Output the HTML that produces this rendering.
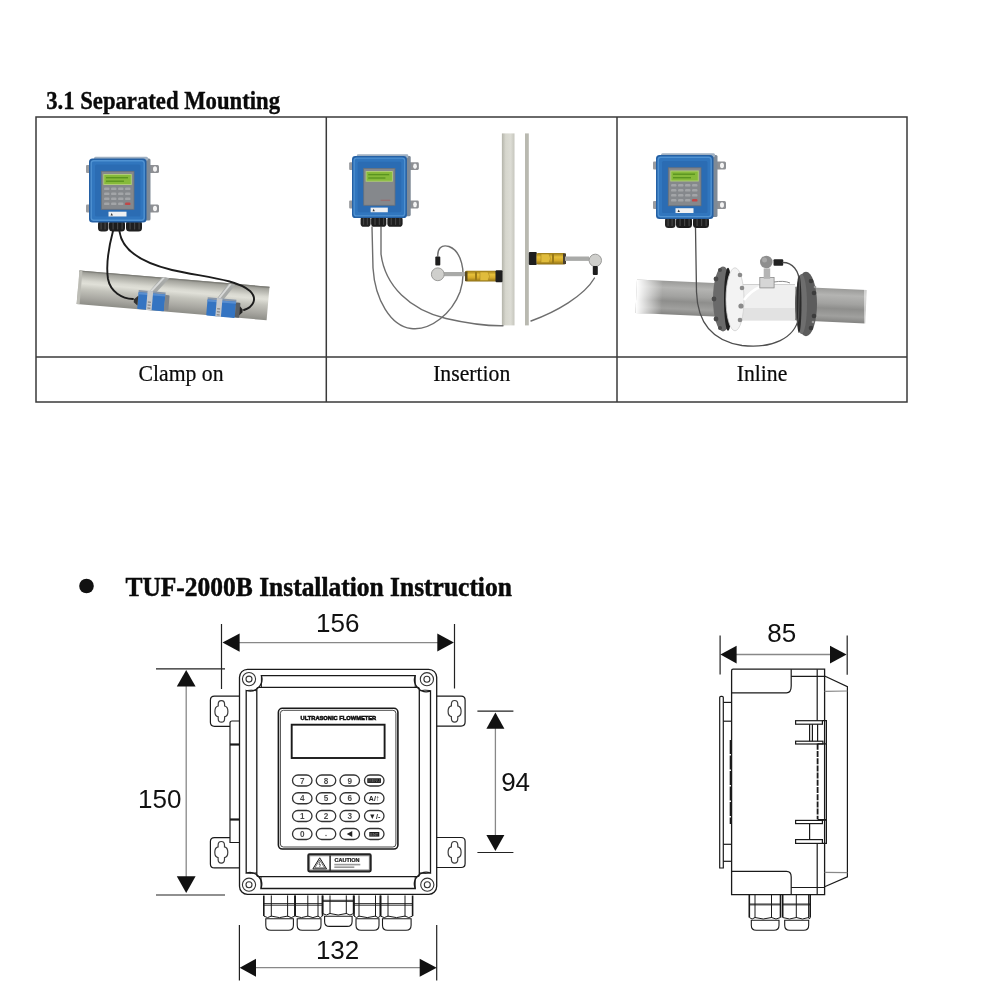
<!DOCTYPE html>
<html><head><meta charset="utf-8"><style>
html,body{margin:0;padding:0;background:#fff;width:1000px;height:1000px;overflow:hidden}
svg{display:block;will-change:transform}
.serif{font-family:"Liberation Serif",serif}
.sans{font-family:"Liberation Sans",sans-serif}
</style></head><body>
<svg width="1000" height="1000" viewBox="0 0 1000 1000">
<rect width="1000" height="1000" fill="#fff"/>
<defs>
<linearGradient id="pipeg" x1="0" y1="0" x2="0" y2="1">
<stop offset="0" stop-color="#8a8a84"/><stop offset="0.08" stop-color="#a6a69f"/><stop offset="0.3" stop-color="#d8d8d0"/><stop offset="0.38" stop-color="#e0e0d8"/><stop offset="0.55" stop-color="#c4c4bc"/><stop offset="0.8" stop-color="#a8a7a1"/><stop offset="1" stop-color="#8e8e88"/>
</linearGradient>
<linearGradient id="vpipe" x1="0" y1="0" x2="1" y2="0">
<stop offset="0" stop-color="#b4b4aa"/><stop offset="0.3" stop-color="#d6d6cd"/><stop offset="0.7" stop-color="#dcdcd4"/><stop offset="1" stop-color="#c6c6bd"/>
</linearGradient>
<linearGradient id="pipe3" x1="0" y1="0" x2="0" y2="1">
<stop offset="0" stop-color="#9a9a98"/><stop offset="0.2" stop-color="#b4b4b2"/><stop offset="0.45" stop-color="#a2a2a0"/><stop offset="0.6" stop-color="#8e8e8c"/><stop offset="0.82" stop-color="#a0a09e"/><stop offset="1" stop-color="#848482"/>
</linearGradient>
<linearGradient id="fadeL" x1="0" y1="0" x2="1" y2="0">
<stop offset="0" stop-color="#fff" stop-opacity="1"/><stop offset="1" stop-color="#fff" stop-opacity="0"/>
</linearGradient>
<linearGradient id="yel" x1="0" y1="0" x2="0" y2="1">
<stop offset="0" stop-color="#9a7a18"/><stop offset="0.35" stop-color="#e6c03a"/><stop offset="0.65" stop-color="#d4aa2a"/><stop offset="1" stop-color="#8a6c14"/>
</linearGradient>
</defs>


<!-- ===== Heading 3.1 ===== -->
<text transform="translate(46.2 108.6) scale(1 1.08)" class="serif" font-weight="bold" font-size="22.7" fill="#0a0a0a" stroke="#0a0a0a" stroke-width="0.35">3.1 Separated Mounting</text>

<!-- ===== Table ===== -->
<g stroke="#3a3a3a" stroke-width="1.5" fill="none">
<rect x="36" y="117" width="871" height="285"/>
<line x1="36" y1="357" x2="907" y2="357"/>
<line x1="326.3" y1="117" x2="326.3" y2="402"/>
<line x1="617" y1="117" x2="617" y2="402"/>
</g>
<g class="serif" font-size="21.7" fill="#0a0a0a" stroke="#0a0a0a" stroke-width="0.2" text-anchor="middle">
<text transform="translate(181 380.9) scale(1 1.08)">Clamp on</text>
<text transform="translate(471.7 380.9) scale(1 1.08)">Insertion</text>
<text transform="translate(762 380.9) scale(1 1.08)">Inline</text>
</g>

<!-- PHOTOS -->
<g id="photos">
<!-- ===== Cell 1: Clamp on ===== -->
<g transform="translate(79.5 270.4) rotate(4.93)">
<rect x="0" y="0" width="190.7" height="33.6" fill="url(#pipeg)"/>
<rect x="0" y="0" width="190.7" height="1.2" fill="#7e7e78"/>
<rect x="0" y="0" width="3" height="33.6" fill="#bdbdb6"/>
</g>
<!-- straps -->
<path d="M146.5 294.5 L162 277 L169.5 278 L153.5 295.5 Z" fill="#a8aaa8"/>
<path d="M148 293 L163 277.5 L165 277.7 L150 294 Z" fill="#d8d9d8"/>
<path d="M215.5 300.5 L228.5 283.5 L235.5 284.5 L222 301.5 Z" fill="#a8aaa8"/>
<path d="M217 299.5 L229.5 284 L231.5 284.2 L219 300 Z" fill="#d8d9d8"/>
<g transform="translate(151.3 301.8) rotate(4.93)">
<rect x="-13.5" y="-10.6" width="27" height="3" fill="#8796aa"/>
<rect x="-13.5" y="-8.4" width="27" height="16.8" rx="1" fill="#3474c2"/>
<rect x="-13.5" y="-8.4" width="27" height="2" fill="#5a8fd0"/>
<rect x="-4.6" y="-10.6" width="5.6" height="19.2" fill="#c6c8ca"/>
<rect x="-3.4" y="0" width="3" height="1" fill="#777"/><rect x="-3.4" y="3" width="3" height="1" fill="#777"/><rect x="-3.4" y="6" width="3" height="1" fill="#777"/>
<rect x="13.3" y="-8" width="4.4" height="15.5" rx="1" fill="#80858a"/>
<path d="M-13.5 -5 L-17.5 -1 L-17.5 2 L-13.5 5 Z" fill="#333"/>
</g>
<g transform="translate(221.2 308.7) rotate(4.93)">
<rect x="-14.4" y="-10.3" width="28.8" height="3" fill="#8796aa"/>
<rect x="-14.4" y="-8.1" width="28.8" height="16.2" rx="1" fill="#3474c2"/>
<rect x="-14.4" y="-8.1" width="28.8" height="2" fill="#5a8fd0"/>
<rect x="-5.2" y="-10.3" width="5.6" height="18.6" fill="#c6c8ca"/>
<rect x="-4" y="0" width="3" height="1" fill="#777"/><rect x="-4" y="3" width="3" height="1" fill="#777"/><rect x="-4" y="6" width="3" height="1" fill="#777"/>
<rect x="14.2" y="-7.5" width="4.5" height="15" rx="1" fill="#5a5e62"/>
<path d="M18.5 -4 L21.5 -1 L21.5 2 L18.5 5 Z" fill="#222"/>
</g>
<g fill="none" stroke="#1c1c1c" stroke-width="1.9" stroke-linecap="round">
<path d="M113 231 C108.5 248 106 266 108 279 C110.5 292 122 298.5 133 299"/>
<path d="M119.5 231.5 C122 249 139 262 172 270 C203 277 236 279 250 291 C258 299 253 307 244 310"/>
</g>
<g transform="translate(89 158.5)">
<!-- ears -->
<rect x="-3" y="6.5" width="4.5" height="8" rx="1" fill="#9a9ca0"/>
<rect x="-3" y="46" width="4.5" height="8" rx="1" fill="#9a9ca0"/>
<rect x="56" y="6.5" width="14" height="8" rx="1.5" fill="#8e9094"/>
<rect x="56" y="46" width="14" height="8" rx="1.5" fill="#8e9094"/>
<ellipse cx="66" cy="10.5" rx="2" ry="2.8" fill="#f4f4f4"/>
<ellipse cx="66" cy="50" rx="2" ry="2.8" fill="#f4f4f4"/>
<!-- side & top faces -->
<rect x="55" y="0" width="6.5" height="62" rx="1.5" fill="#7f8a96"/>
<rect x="5" y="-1.8" width="54" height="4" rx="1.5" fill="#9fb0c2"/>
<!-- glands -->
<rect x="9" y="62" width="10.5" height="11" rx="3.5" fill="#222"/>
<rect x="20" y="62" width="16" height="11" rx="3.5" fill="#1c1c1c"/>
<rect x="37" y="62" width="16" height="11" rx="3.5" fill="#1f1f1f"/>
<g fill="#444"><rect x="11.5" y="64" width="1.2" height="7"/><rect x="15.5" y="64" width="1.2" height="7"/><rect x="23.5" y="64" width="1.2" height="7"/><rect x="28" y="64" width="1.2" height="7"/><rect x="32.5" y="64" width="1.2" height="7"/><rect x="40.5" y="64" width="1.2" height="7"/><rect x="45" y="64" width="1.2" height="7"/><rect x="49.5" y="64" width="1.2" height="7"/></g>
<!-- body -->
<rect x="0" y="0" width="57.5" height="64" rx="3.5" fill="#2460a4"/>
<rect x="2.2" y="2.2" width="53" height="59.5" rx="2.5" fill="#3176be" stroke="#4f92d2" stroke-width="1.4"/>
<rect x="6" y="6" width="45.5" height="52" rx="1.5" fill="#2b6cb3"/>
<!-- panel -->
<rect x="12.3" y="12.8" width="32.7" height="38" fill="#85888c" stroke="#6a7078" stroke-width="0.8"/>
<rect x="14.8" y="16" width="27.5" height="10" fill="#86ba3a" stroke="#b0cc78" stroke-width="1"/>
<rect x="17" y="18.5" width="22" height="1.4" fill="#5a9420"/><rect x="17" y="22" width="18" height="1.4" fill="#5a9420"/>
<rect x="19.5" y="53.2" width="18" height="4.8" fill="#eef0f2"/>
<path d="M21.5 57 L22.7 54.5 L23.9 57 Z" fill="#333"/>

<g fill="#a3a5a8">
<rect x="15" y="29" width="5.5" height="2.6" rx="1.2"/><rect x="22" y="29" width="5.5" height="2.6" rx="1.2"/><rect x="29" y="29" width="5.5" height="2.6" rx="1.2"/><rect x="36" y="29" width="5.5" height="2.6" rx="1.2"/>
<rect x="15" y="34" width="5.5" height="2.6" rx="1.2"/><rect x="22" y="34" width="5.5" height="2.6" rx="1.2"/><rect x="29" y="34" width="5.5" height="2.6" rx="1.2"/><rect x="36" y="34" width="5.5" height="2.6" rx="1.2"/>
<rect x="15" y="39" width="5.5" height="2.6" rx="1.2"/><rect x="22" y="39" width="5.5" height="2.6" rx="1.2"/><rect x="29" y="39" width="5.5" height="2.6" rx="1.2"/><rect x="36" y="39" width="5.5" height="2.6" rx="1.2"/>
<rect x="15" y="44" width="5.5" height="2.6" rx="1.2"/><rect x="22" y="44" width="5.5" height="2.6" rx="1.2"/><rect x="29" y="44" width="5.5" height="2.6" rx="1.2"/>
</g>
<rect x="36" y="44" width="5.5" height="2.6" rx="1.2" fill="#c04848"/>
</g>

<!-- ===== Cell 2: Insertion ===== -->
<rect x="501.9" y="133.4" width="12.6" height="192" fill="url(#vpipe)"/>
<rect x="525" y="133.4" width="3.8" height="192" fill="#b9b9b0"/>
<g fill="none" stroke="#6e6e6e" stroke-width="1.4" stroke-linecap="round">
<path d="M372 227 L373 268 C375 300 391 326 411 328.5 C431 331 452 313 460 292 C467 271 461 251 449 246.5 C441 244 437.5 249 437.8 256"/>
<path d="M381 227 L381 254 C385 286 410 310 446 318.5 C470 324 490 326 503 325.8"/>
<path d="M531 321 C556 312 584 296 594.5 278"/>
</g>
<!-- left sensor -->
<rect x="443" y="272" width="23" height="4.2" fill="#a9aaa8"/>
<rect x="465" y="270.8" width="31.5" height="10.8" rx="1.5" fill="url(#yel)"/>
<rect x="475" y="272" width="2" height="8.5" fill="#9a7a18"/><rect x="465" y="271.5" width="2.5" height="9.5" fill="#5a4a20"/><path d="M480 272 h8 l1.5 4.3 l-1.5 4.3 h-8 z" fill="#e0bc3c" stroke="#a08020" stroke-width="0.5"/>
<rect x="495.5" y="270.2" width="7" height="12" rx="1" fill="#1e1e1e"/>
<circle cx="437.8" cy="274.3" r="6.4" fill="#cfcfcc" stroke="#9a9a98" stroke-width="1"/>
<rect x="435.3" y="256.5" width="5" height="9" rx="1" fill="#1e1e1e"/>
<!-- right sensor -->
<rect x="528.8" y="252" width="8" height="13" rx="1" fill="#1e1e1e"/>
<rect x="536.5" y="253" width="29" height="11.5" rx="1.5" fill="url(#yel)"/>
<rect x="552" y="254" width="2" height="9.5" fill="#9a7a18"/><rect x="563" y="253.5" width="3" height="10.5" fill="#4a4030"/><path d="M541 254 h8 l1.5 4.3 l-1.5 4.3 h-8 z" fill="#e0bc3c" stroke="#a08020" stroke-width="0.5"/>
<rect x="565" y="256.5" width="24" height="4.4" fill="#a9aaa8"/>
<circle cx="595.3" cy="260.4" r="6.2" fill="#cfcfcc" stroke="#9a9a98" stroke-width="1"/>
<rect x="592.8" y="266" width="5" height="9" rx="1" fill="#1e1e1e"/>
<g transform="translate(352 156) scale(0.955 0.97)">
<!-- ears -->
<rect x="-3" y="6.5" width="4.5" height="8" rx="1" fill="#9a9ca0"/>
<rect x="-3" y="46" width="4.5" height="8" rx="1" fill="#9a9ca0"/>
<rect x="56" y="6.5" width="14" height="8" rx="1.5" fill="#8e9094"/>
<rect x="56" y="46" width="14" height="8" rx="1.5" fill="#8e9094"/>
<ellipse cx="66" cy="10.5" rx="2" ry="2.8" fill="#f4f4f4"/>
<ellipse cx="66" cy="50" rx="2" ry="2.8" fill="#f4f4f4"/>
<!-- side & top faces -->
<rect x="55" y="0" width="6.5" height="62" rx="1.5" fill="#7f8a96"/>
<rect x="5" y="-1.8" width="54" height="4" rx="1.5" fill="#9fb0c2"/>
<!-- glands -->
<rect x="9" y="62" width="10.5" height="11" rx="3.5" fill="#222"/>
<rect x="20" y="62" width="16" height="11" rx="3.5" fill="#1c1c1c"/>
<rect x="37" y="62" width="16" height="11" rx="3.5" fill="#1f1f1f"/>
<g fill="#444"><rect x="11.5" y="64" width="1.2" height="7"/><rect x="15.5" y="64" width="1.2" height="7"/><rect x="23.5" y="64" width="1.2" height="7"/><rect x="28" y="64" width="1.2" height="7"/><rect x="32.5" y="64" width="1.2" height="7"/><rect x="40.5" y="64" width="1.2" height="7"/><rect x="45" y="64" width="1.2" height="7"/><rect x="49.5" y="64" width="1.2" height="7"/></g>
<!-- body -->
<rect x="0" y="0" width="57.5" height="64" rx="3.5" fill="#2460a4"/>
<rect x="2.2" y="2.2" width="53" height="59.5" rx="2.5" fill="#3176be" stroke="#4f92d2" stroke-width="1.4"/>
<rect x="6" y="6" width="45.5" height="52" rx="1.5" fill="#2b6cb3"/>
<!-- panel -->
<rect x="12.3" y="12.8" width="32.7" height="38" fill="#85888c" stroke="#6a7078" stroke-width="0.8"/>
<rect x="14.8" y="16" width="27.5" height="10" fill="#86ba3a" stroke="#b0cc78" stroke-width="1"/>
<rect x="17" y="18.5" width="22" height="1.4" fill="#5a9420"/><rect x="17" y="22" width="18" height="1.4" fill="#5a9420"/>
<rect x="19.5" y="53.2" width="18" height="4.8" fill="#eef0f2"/>
<path d="M21.5 57 L22.7 54.5 L23.9 57 Z" fill="#333"/>
<rect x="30" y="45" width="10" height="1.4" fill="#a06060" opacity="0.6"/></g>

<!-- ===== Cell 3: Inline ===== -->
<g transform="translate(637 279.5) rotate(2.6)">
<rect x="0" y="0" width="230" height="33.5" fill="url(#pipe3)"/>
<rect x="0" y="0" width="26" height="33.5" fill="url(#fadeL)"/>
</g>
<rect x="864" y="288" width="4" height="37" fill="#fff" opacity="0.5"/>
<!-- left flange -->
<ellipse cx="723" cy="299" rx="10" ry="32.5" fill="#6a6a6a"/>
<g fill="#4a4a4a"><circle cx="716" cy="279" r="2.4"/><circle cx="714" cy="299" r="2.4"/><circle cx="716" cy="319" r="2.4"/><circle cx="720" cy="270" r="2"/><circle cx="720" cy="328" r="2"/></g>
<ellipse cx="728" cy="299.3" rx="4" ry="31.5" fill="#1e1e1e"/>
<!-- meter tube -->
<rect x="738" y="284" width="57" height="36.5" fill="#efefef"/>
<rect x="738" y="308" width="57" height="12.5" fill="#e2e2e2"/>
<rect x="738" y="284" width="57" height="1" fill="#cfcfcf"/>
<ellipse cx="735" cy="299.3" rx="9" ry="31.5" fill="#f3f3f3" stroke="#d0d0d0" stroke-width="0.8"/>
<g fill="#8a8a8a"><circle cx="740" cy="275" r="2.3"/><circle cx="742" cy="288" r="2.3"/><circle cx="741" cy="306" r="2.6"/><circle cx="740" cy="320" r="2.3"/></g>
<path d="M744 300 C750 292 755 289 760 287" stroke="#fff" stroke-width="2.5" fill="none"/>
<!-- right flange -->
<ellipse cx="806" cy="304" rx="11" ry="32.2" fill="#5c5c5c"/>
<ellipse cx="801.5" cy="304" rx="5.5" ry="30" fill="#6e6e6e"/>
<ellipse cx="799" cy="304" rx="2.5" ry="29" fill="#2a2a2a"/>
<g fill="#3c3c3c"><circle cx="811" cy="281" r="2.3"/><circle cx="814" cy="293" r="2.3"/><circle cx="814" cy="316" r="2.3"/><circle cx="811" cy="328" r="2.3"/></g>
<g fill="#9a9a9a"><circle cx="815" cy="287" r="1.3"/><circle cx="813" cy="322" r="1.3"/></g>
<!-- sensor -->
<rect x="759.8" y="277.5" width="14.3" height="10.4" fill="#d6d6d6" stroke="#8a8a8a" stroke-width="0.8"/>
<rect x="763.7" y="268.4" width="6.5" height="10.4" fill="#b4b4b4"/>
<circle cx="766.3" cy="262" r="6.3" fill="#8e8e8e"/>
<circle cx="764.5" cy="260" r="2.5" fill="#a8a8a8"/>
<rect x="773.5" y="259.3" width="9.7" height="6.5" rx="1" fill="#222"/>
<path d="M774 282 C780 281 786 281 790 283" stroke="#8a8a8a" stroke-width="1" fill="none"/>
<g fill="none" stroke="#4e4e4e" stroke-width="1.3" stroke-linecap="round">
<path d="M695.5 228 L696.5 292 C697.5 322 712 341 742 345.5 C772 349 795 338 798.5 318 L799.5 284 C799.5 270 792 262.5 783 262.5"/>
</g>
<g transform="translate(656 155)">
<!-- ears -->
<rect x="-3" y="6.5" width="4.5" height="8" rx="1" fill="#9a9ca0"/>
<rect x="-3" y="46" width="4.5" height="8" rx="1" fill="#9a9ca0"/>
<rect x="56" y="6.5" width="14" height="8" rx="1.5" fill="#8e9094"/>
<rect x="56" y="46" width="14" height="8" rx="1.5" fill="#8e9094"/>
<ellipse cx="66" cy="10.5" rx="2" ry="2.8" fill="#f4f4f4"/>
<ellipse cx="66" cy="50" rx="2" ry="2.8" fill="#f4f4f4"/>
<!-- side & top faces -->
<rect x="55" y="0" width="6.5" height="62" rx="1.5" fill="#7f8a96"/>
<rect x="5" y="-1.8" width="54" height="4" rx="1.5" fill="#9fb0c2"/>
<!-- glands -->
<rect x="9" y="62" width="10.5" height="11" rx="3.5" fill="#222"/>
<rect x="20" y="62" width="16" height="11" rx="3.5" fill="#1c1c1c"/>
<rect x="37" y="62" width="16" height="11" rx="3.5" fill="#1f1f1f"/>
<g fill="#444"><rect x="11.5" y="64" width="1.2" height="7"/><rect x="15.5" y="64" width="1.2" height="7"/><rect x="23.5" y="64" width="1.2" height="7"/><rect x="28" y="64" width="1.2" height="7"/><rect x="32.5" y="64" width="1.2" height="7"/><rect x="40.5" y="64" width="1.2" height="7"/><rect x="45" y="64" width="1.2" height="7"/><rect x="49.5" y="64" width="1.2" height="7"/></g>
<!-- body -->
<rect x="0" y="0" width="57.5" height="64" rx="3.5" fill="#2460a4"/>
<rect x="2.2" y="2.2" width="53" height="59.5" rx="2.5" fill="#3176be" stroke="#4f92d2" stroke-width="1.4"/>
<rect x="6" y="6" width="45.5" height="52" rx="1.5" fill="#2b6cb3"/>
<!-- panel -->
<rect x="12.3" y="12.8" width="32.7" height="38" fill="#85888c" stroke="#6a7078" stroke-width="0.8"/>
<rect x="14.8" y="16" width="27.5" height="10" fill="#86ba3a" stroke="#b0cc78" stroke-width="1"/>
<rect x="17" y="18.5" width="22" height="1.4" fill="#5a9420"/><rect x="17" y="22" width="18" height="1.4" fill="#5a9420"/>
<rect x="19.5" y="53.2" width="18" height="4.8" fill="#eef0f2"/>
<path d="M21.5 57 L22.7 54.5 L23.9 57 Z" fill="#333"/>

<g fill="#a3a5a8">
<rect x="15" y="29" width="5.5" height="2.6" rx="1.2"/><rect x="22" y="29" width="5.5" height="2.6" rx="1.2"/><rect x="29" y="29" width="5.5" height="2.6" rx="1.2"/><rect x="36" y="29" width="5.5" height="2.6" rx="1.2"/>
<rect x="15" y="34" width="5.5" height="2.6" rx="1.2"/><rect x="22" y="34" width="5.5" height="2.6" rx="1.2"/><rect x="29" y="34" width="5.5" height="2.6" rx="1.2"/><rect x="36" y="34" width="5.5" height="2.6" rx="1.2"/>
<rect x="15" y="39" width="5.5" height="2.6" rx="1.2"/><rect x="22" y="39" width="5.5" height="2.6" rx="1.2"/><rect x="29" y="39" width="5.5" height="2.6" rx="1.2"/><rect x="36" y="39" width="5.5" height="2.6" rx="1.2"/>
<rect x="15" y="44" width="5.5" height="2.6" rx="1.2"/><rect x="22" y="44" width="5.5" height="2.6" rx="1.2"/><rect x="29" y="44" width="5.5" height="2.6" rx="1.2"/>
</g>
<rect x="36" y="44" width="5.5" height="2.6" rx="1.2" fill="#c04848"/>
</g>
</g>

<!-- ===== Bullet heading ===== -->
<circle cx="86.5" cy="586" r="7.3" fill="#111"/>
<text transform="translate(125.4 596) scale(1 1.08)" class="serif" font-weight="bold" font-size="25.5" fill="#0a0a0a" stroke="#0a0a0a" stroke-width="0.45">TUF-2000B Installation Instruction</text>

<!-- ===== Front view dimensions ===== -->
<g stroke="#222" stroke-width="1.2" fill="none">
<!-- 156 -->
<line x1="221.5" y1="624" x2="221.5" y2="689"/>
<line x1="454.5" y1="624" x2="454.5" y2="688.5"/>
<!-- 150 -->
<line x1="156" y1="668.8" x2="225" y2="668.8"/>
<line x1="156" y1="895" x2="225" y2="895"/>
<!-- 94 -->
<line x1="477.4" y1="711.2" x2="513.4" y2="711.2"/>
<line x1="477.4" y1="852.5" x2="513.4" y2="852.5"/>
<!-- 132 -->
<line x1="239.4" y1="925" x2="239.4" y2="980.5"/>
<line x1="436.7" y1="925" x2="436.7" y2="980.5"/>
</g>
<g stroke="#888" stroke-width="1.3" fill="none">
<line x1="239" y1="642.6" x2="438" y2="642.6"/>
<line x1="186.2" y1="686" x2="186.2" y2="877"/>
<line x1="495.4" y1="728" x2="495.4" y2="835"/>
<line x1="256" y1="967.7" x2="420" y2="967.7"/>
</g>
<g fill="#111">
<polygon points="222.5,642.6 239.6,633.4 239.6,651.8"/>
<polygon points="453.9,642.6 437.3,633.6 437.3,651.6"/>
<polygon points="186.2,670 176.8,686.5 195.6,686.5"/>
<polygon points="186.2,893 176.8,876.3 195.6,876.3"/>
<polygon points="495.4,712.5 486.4,728.7 504.4,728.7"/>
<polygon points="495.4,851 486.4,834.9 504.4,834.9"/>
<polygon points="239.7,967.7 256,958.8 256,976.8"/>
<polygon points="436.7,967.7 419.7,958.8 419.7,976.8"/>
</g>
<g class="sans" font-size="26" fill="#111">
<text x="337.7" y="631.5" text-anchor="middle">156</text>
<text x="159.7" y="807.5" text-anchor="middle">150</text>
<text x="515.6" y="790.8" text-anchor="middle">94</text>
<text x="337.6" y="958.8" text-anchor="middle">132</text>
<text x="781.7" y="641.8" text-anchor="middle">85</text>
</g>

<!-- ===== Front view body ===== -->
<g id="front" stroke="#1a1a1a" stroke-width="1.2" fill="none">
<!-- ears -->
<path d="M239.5 696.2 H214.5 Q210.4 696.2 210.4 700.2 V722.3 Q210.4 726.3 214.5 726.3 H230"/>
<path d="M230 837.6 H214.5 Q210.4 837.6 210.4 841.6 V863.9 Q210.4 867.9 214.5 867.9 H239.5"/>
<path d="M436.7 696.2 H461.1 Q465.1 696.2 465.1 700.2 V722.1 Q465.1 726.1 461.1 726.1 H436.7"/>
<path d="M436.7 837.5 H461.1 Q465.1 837.5 465.1 841.5 V863.5 Q465.1 867.5 461.1 867.5 H436.7"/>
<g stroke="#3a3a3a" stroke-width="1.2">
<path transform="translate(221.4 711.4)" d="M0,-10.8 C2.2,-10.8 3.2,-9.2 3.2,-7 L3.2,-5.4 C5.4,-5 6.5,-2.6 6.5,0 C6.5,2.6 5.4,5 3.2,5.4 L3.2,7 C3.2,9.2 2.2,10.8 0,10.8 C-2.2,10.8 -3.2,9.2 -3.2,7 L-3.2,5.4 C-5.4,5 -6.5,2.6 -6.5,0 C-6.5,-2.6 -5.4,-5 -3.2,-5.4 L-3.2,-7 C-3.2,-9.2 -2.2,-10.8 0,-10.8 Z"/>
<path transform="translate(221.3 852.3)" d="M0,-10.8 C2.2,-10.8 3.2,-9.2 3.2,-7 L3.2,-5.4 C5.4,-5 6.5,-2.6 6.5,0 C6.5,2.6 5.4,5 3.2,5.4 L3.2,7 C3.2,9.2 2.2,10.8 0,10.8 C-2.2,10.8 -3.2,9.2 -3.2,7 L-3.2,5.4 C-5.4,5 -6.5,2.6 -6.5,0 C-6.5,-2.6 -5.4,-5 -3.2,-5.4 L-3.2,-7 C-3.2,-9.2 -2.2,-10.8 0,-10.8 Z"/>
<path transform="translate(454.6 711.3)" d="M0,-10.8 C2.2,-10.8 3.2,-9.2 3.2,-7 L3.2,-5.4 C5.4,-5 6.5,-2.6 6.5,0 C6.5,2.6 5.4,5 3.2,5.4 L3.2,7 C3.2,9.2 2.2,10.8 0,10.8 C-2.2,10.8 -3.2,9.2 -3.2,7 L-3.2,5.4 C-5.4,5 -6.5,2.6 -6.5,0 C-6.5,-2.6 -5.4,-5 -3.2,-5.4 L-3.2,-7 C-3.2,-9.2 -2.2,-10.8 0,-10.8 Z"/>
<path transform="translate(454.6 852.3)" d="M0,-10.8 C2.2,-10.8 3.2,-9.2 3.2,-7 L3.2,-5.4 C5.4,-5 6.5,-2.6 6.5,0 C6.5,2.6 5.4,5 3.2,5.4 L3.2,7 C3.2,9.2 2.2,10.8 0,10.8 C-2.2,10.8 -3.2,9.2 -3.2,7 L-3.2,5.4 C-5.4,5 -6.5,2.6 -6.5,0 C-6.5,-2.6 -5.4,-5 -3.2,-5.4 L-3.2,-7 C-3.2,-9.2 -2.2,-10.8 0,-10.8 Z"/>
</g>
<!-- hinge strip -->
<path d="M239.5 721 H232 Q230 721 230 723 V842.5 H239.5"/>
<line x1="230" y1="744.5" x2="239.5" y2="744.5" stroke-width="2.2"/>
<line x1="230" y1="819.5" x2="239.5" y2="819.5" stroke-width="2.2"/>
<!-- outer housing -->
<rect x="239.5" y="669.3" width="197.2" height="225" rx="8" stroke-width="1.3"/>
<!-- lid frame outer with concave corners -->
<path d="M261.4 675.6 H415.2 A12 12 0 0 0 430.5 691 V873 A12 12 0 0 0 415.2 888.5 H261 A12 12 0 0 0 246.2 873 V690.5 A12 12 0 0 0 261.4 675.6 Z" stroke-width="1.3"/>
<!-- lid frame inner -->
<path d="M259 687.4 H417.5 Q419.3 687.4 419.3 689.5 V874.6 Q419.3 876.7 417.3 876.7 H258.8 Q256.8 876.7 256.8 874.6 V689.5 Q256.8 687.4 259 687.4 Z" stroke-width="1.3"/>
<path d="M261.4 675.6 V687.4 M415.2 675.6 V687.4 M261 876.7 V888.5 M415.2 876.7 V888.5 M246.2 690.6 Q251.5 689.6 256.8 690.8 M419.3 690.8 Q425 689.6 430.5 690.6 M246.2 873 Q251.5 874 256.8 872.8 M419.3 872.8 Q425 874 430.5 873" stroke-width="1"/>
<!-- screws -->
<g stroke="#333" stroke-width="1.1">
<circle cx="249" cy="679.1" r="6.6"/><circle cx="249" cy="679.1" r="3"/>
<circle cx="426.9" cy="679.2" r="6.6"/><circle cx="426.9" cy="679.2" r="3"/>
<circle cx="249" cy="884.7" r="6.6"/><circle cx="249" cy="884.7" r="3"/>
<circle cx="427.3" cy="884.7" r="6.6"/><circle cx="427.3" cy="884.7" r="3"/>
</g>
<!-- panel -->
<rect x="278.4" y="708.3" width="119.5" height="140.7" rx="4" stroke-width="1.6"/>
<rect x="280.4" y="710.3" width="115.5" height="136.7" rx="3" stroke-width="0.8"/>
<!-- LCD -->
<rect x="291.7" y="724.7" width="92.9" height="33.3" stroke-width="1.9"/>
<g stroke="#333" stroke-width="1.3">
<rect x="292.50" y="775.00" width="19.5" height="11" rx="5.5"/>
<rect x="316.25" y="775.00" width="19.5" height="11" rx="5.5"/>
<rect x="340.00" y="775.00" width="19.5" height="11" rx="5.5"/>
<rect x="364.50" y="775.00" width="19.5" height="11" rx="5.5"/>
<rect x="292.50" y="792.75" width="19.5" height="11" rx="5.5"/>
<rect x="316.25" y="792.75" width="19.5" height="11" rx="5.5"/>
<rect x="340.00" y="792.75" width="19.5" height="11" rx="5.5"/>
<rect x="364.50" y="792.75" width="19.5" height="11" rx="5.5"/>
<rect x="292.50" y="810.50" width="19.5" height="11" rx="5.5"/>
<rect x="316.25" y="810.50" width="19.5" height="11" rx="5.5"/>
<rect x="340.00" y="810.50" width="19.5" height="11" rx="5.5"/>
<rect x="364.50" y="810.50" width="19.5" height="11" rx="5.5"/>
<rect x="292.50" y="828.50" width="19.5" height="11" rx="5.5"/>
<rect x="316.25" y="828.50" width="19.5" height="11" rx="5.5"/>
<rect x="340.00" y="828.50" width="19.5" height="11" rx="5.5"/>
<rect x="364.50" y="828.50" width="19.5" height="11" rx="5.5"/>
</g>
<rect x="308.4" y="854.4" width="62.2" height="16.9" rx="1" stroke-width="2.2" stroke="#222"/>
<rect x="309.8" y="855.9" width="59.4" height="14" stroke-width="0.6" stroke="#666"/>
<line x1="330.1" y1="855.5" x2="330.1" y2="870.8" stroke-width="1.4"/>
<path d="M319.7 857.8 L326.6 868.9 H312.9 Z" stroke-width="1"/>
<path d="M319.7 860 L324.6 867.8 H314.9 Z" stroke-width="0.6"/>
<path d="M319.9 861.5 L319 864.6 L320.5 864.6 L319.6 867" stroke-width="0.6"/>
<path d="M263.8 895.4 V916.1 M294.9 895.4 V916.1" stroke-width="1.6"/>
<line x1="263.8" y1="903.6" x2="294.9" y2="903.6" stroke-width="0.9"/>
<line x1="263.8" y1="905.2" x2="294.9" y2="905.2" stroke-width="0.9"/>
<line x1="271.3" y1="895.4" x2="271.3" y2="916.6" stroke-width="1"/>
<line x1="287.6" y1="895.4" x2="287.6" y2="916.6" stroke-width="1"/>
<path d="M263.8 916.1 Q267.6 919.1 271.3 916.1 Q279.5 919.1 287.6 916.1 Q291.2 919.1 294.9 916.1" stroke-width="1"/>
<path d="M265.8 918.8 H293.4 V925.3 Q293.4 930.3 288.4 930.3 H270.8 Q265.8 930.3 265.8 925.3 Z" stroke-width="1.1"/>
<path d="M295.2 895.4 V916.1 M322.5 895.4 V916.1" stroke-width="1.6"/>
<line x1="295.2" y1="903.6" x2="322.5" y2="903.6" stroke-width="0.9"/>
<line x1="295.2" y1="905.2" x2="322.5" y2="905.2" stroke-width="0.9"/>
<line x1="307.8" y1="895.4" x2="307.8" y2="916.6" stroke-width="1"/>
<line x1="318.0" y1="895.4" x2="318.0" y2="916.6" stroke-width="1"/>
<path d="M295.2 916.1 Q301.5 919.1 307.8 916.1 Q312.9 919.1 318.0 916.1 Q320.2 919.1 322.5 916.1" stroke-width="1"/>
<path d="M297.2 918.8 H321.0 V925.3 Q321.0 930.3 316.0 930.3 H302.2 Q297.2 930.3 297.2 925.3 Z" stroke-width="1.1"/>
<path d="M322.6 895.4 V913.5 M353.6 895.4 V913.5" stroke-width="1.6"/>
<line x1="322.6" y1="900.3" x2="353.6" y2="900.3" stroke-width="0.9"/>
<line x1="322.6" y1="901.4" x2="353.6" y2="901.4" stroke-width="0.9"/>
<line x1="330.0" y1="895.4" x2="330.0" y2="914.0" stroke-width="1"/>
<line x1="346.3" y1="895.4" x2="346.3" y2="914.0" stroke-width="1"/>
<path d="M322.6 913.5 Q326.3 916.5 330.0 913.5 Q338.1 916.5 346.3 913.5 Q350.0 916.5 353.6 913.5" stroke-width="1"/>
<path d="M324.6 916.2 H352.1 V921.4 Q352.1 926.4 347.1 926.4 H329.6 Q324.6 926.4 324.6 921.4 Z" stroke-width="1.1"/>
<path d="M354.0 895.4 V916.1 M380.5 895.4 V916.1" stroke-width="1.6"/>
<line x1="354.0" y1="903.6" x2="380.5" y2="903.6" stroke-width="0.9"/>
<line x1="354.0" y1="905.2" x2="380.5" y2="905.2" stroke-width="0.9"/>
<line x1="359.0" y1="895.4" x2="359.0" y2="916.6" stroke-width="1"/>
<line x1="375.5" y1="895.4" x2="375.5" y2="916.6" stroke-width="1"/>
<path d="M354.0 916.1 Q356.5 919.1 359.0 916.1 Q367.2 919.1 375.5 916.1 Q378.0 919.1 380.5 916.1" stroke-width="1"/>
<path d="M356.0 918.8 H379.0 V925.3 Q379.0 930.3 374.0 930.3 H361.0 Q356.0 930.3 356.0 925.3 Z" stroke-width="1.1"/>
<path d="M380.5 895.4 V916.1 M412.6 895.4 V916.1" stroke-width="1.6"/>
<line x1="380.5" y1="903.6" x2="412.6" y2="903.6" stroke-width="0.9"/>
<line x1="380.5" y1="905.2" x2="412.6" y2="905.2" stroke-width="0.9"/>
<line x1="388.0" y1="895.4" x2="388.0" y2="916.6" stroke-width="1"/>
<line x1="405.0" y1="895.4" x2="405.0" y2="916.6" stroke-width="1"/>
<path d="M380.5 916.1 Q384.2 919.1 388.0 916.1 Q396.5 919.1 405.0 916.1 Q408.8 919.1 412.6 916.1" stroke-width="1"/>
<path d="M382.5 918.8 H411.1 V925.3 Q411.1 930.3 406.1 930.3 H387.5 Q382.5 930.3 382.5 925.3 Z" stroke-width="1.1"/>
</g>
<g class="sans" fill="#4a4a4a" text-anchor="middle" font-weight="bold">
<text x="302.25" y="783.70" font-size="8.2">7</text>
<text x="326.00" y="783.70" font-size="8.2">8</text>
<text x="349.75" y="783.70" font-size="8.2">9</text>
<text x="302.25" y="801.45" font-size="8.2">4</text>
<text x="326.00" y="801.45" font-size="8.2">5</text>
<text x="349.75" y="801.45" font-size="8.2">6</text>
<text x="302.25" y="819.20" font-size="8.2">1</text>
<text x="326.00" y="819.20" font-size="8.2">2</text>
<text x="349.75" y="819.20" font-size="8.2">3</text>
<text x="302.25" y="837.20" font-size="8.2">0</text>
<circle cx="326.00" cy="835.50" r="0.7" fill="#555"/>
<path d="M346.75 834.00 L352.25 831.00 V837.00 Z" fill="#222"/>
</g>
<rect x="367.3" y="778.3" width="13.6" height="4.6" fill="#151515"/>
<text x="374.25" y="782.2" class="sans" font-size="4" font-weight="bold" fill="#666" text-anchor="middle" textLength="12" lengthAdjust="spacingAndGlyphs">MENU</text>
<text x="374.1" y="801.4" class="sans" font-size="8" font-weight="bold" fill="#222" text-anchor="middle" textLength="10.5" lengthAdjust="spacingAndGlyphs">A/↑</text>
<text x="374.6" y="819.2" class="sans" font-size="8" font-weight="bold" fill="#222" text-anchor="middle" textLength="11.5" lengthAdjust="spacingAndGlyphs">▼/-</text>
<rect x="369.3" y="832" width="10" height="4.6" fill="#1a1a1a"/><text x="374.3" y="835.8" class="sans" font-size="4" font-weight="bold" fill="#777" text-anchor="middle" textLength="8" lengthAdjust="spacingAndGlyphs">ENT</text>
<text x="338.4" y="719.8" class="sans" font-size="6" font-weight="bold" fill="#111" text-anchor="middle" textLength="75.7" lengthAdjust="spacingAndGlyphs" stroke="#111" stroke-width="0.55">ULTRASONIC FLOWMETER</text>
<text x="347" y="862" class="sans" font-size="4.6" font-weight="bold" fill="#222" stroke="#222" stroke-width="0.2" text-anchor="middle" textLength="25" lengthAdjust="spacingAndGlyphs">CAUTION</text>
<rect x="334.3" y="863.8" width="26" height="1.6" fill="#999"/>
<rect x="334.3" y="866.4" width="20" height="1.6" fill="#999"/>
<!-- ===== Side view ===== -->
<g stroke="#222" stroke-width="1.2" fill="none">
<line x1="720.1" y1="635.5" x2="720.1" y2="674.6"/>
<line x1="847.2" y1="635.5" x2="847.2" y2="674.8"/>
</g>
<line x1="736" y1="654.5" x2="831" y2="654.5" stroke="#888" stroke-width="1.3"/>
<polygon points="720.4,654.5 736.6,645.7 736.6,663.6" fill="#111"/>
<polygon points="846.6,654.5 830,645.7 830,663.6" fill="#111"/>
<g id="side" stroke="#1a1a1a" stroke-width="1.2" fill="none">
<!-- back plate -->
<path d="M723.3 868 H719.7 V697.6 Q719.7 696.3 721 696.3 H722 Q723.3 696.3 723.3 697.6 Z"/>
<line x1="723.3" y1="702.4" x2="731.6" y2="702.4"/>
<line x1="723.3" y1="721.2" x2="731.6" y2="721.2"/>
<line x1="723.3" y1="844.3" x2="731.6" y2="844.3"/>
<line x1="723.3" y1="861.3" x2="731.6" y2="861.3"/>
<line x1="730.6" y1="740" x2="730.6" y2="824" stroke-width="1.8" stroke-dasharray="14 1.5"/>
<!-- body -->
<path d="M731.6 894.7 V670.7 Q731.6 669.2 733.1 669.2 H824.6 V894.7 Z" stroke-width="1.3"/>
<path d="M731.6 692.8 H786.5 Q791.2 692.8 791.2 686 V669.2" />
<path d="M731.6 871.3 H786.5 Q791.2 871.3 791.2 877 V894.7" />
<line x1="791.2" y1="676.4" x2="824.6" y2="676.4"/>
<line x1="791.2" y1="887.5" x2="824.6" y2="887.5"/>
<line x1="817.2" y1="669.2" x2="817.2" y2="720.8"/>
<line x1="817.2" y1="843.6" x2="817.2" y2="894.7"/>
<!-- lid -->
<path d="M824.6 676 L847.4 686.6 V876.8 L824.6 886.8"/>
<line x1="824.6" y1="691.3" x2="847.4" y2="691" stroke="#888"/>
<line x1="824.6" y1="872.4" x2="847.4" y2="872.6" stroke="#888"/>
<!-- clips -->
<rect x="795.6" y="720.7" width="26.8" height="3.5"/>
<rect x="795.6" y="741.2" width="27.3" height="2.8"/>
<line x1="809.6" y1="724.2" x2="809.6" y2="741.2"/>
<line x1="812.4" y1="724.2" x2="812.4" y2="741.2"/>
<line x1="817.6" y1="724.2" x2="817.6" y2="741.2"/>
<path d="M822.4 720.7 H826.4 V743.8"/>
<rect x="795.6" y="820.4" width="26.8" height="3.2"/>
<rect x="795.6" y="839.6" width="26.8" height="3.8"/>
<line x1="809.6" y1="823.6" x2="809.6" y2="839.6"/>
<path d="M822.4 820.2 H826.4 V843.3 H822.4"/>
<line x1="817.6" y1="743.8" x2="817.6" y2="819.2" stroke-width="1.8" stroke-dasharray="6 1.2"/>
<path d="M817.6 743.8 H826.4 V819.6 H817.6"/>
<path d="M749.3 894.7 V917.5 M780.5 894.7 V917.5" stroke-width="1.6"/>
<line x1="749.3" y1="904" x2="780.5" y2="904" stroke-width="0.9"/>
<line x1="749.3" y1="904.9" x2="780.5" y2="904.9" stroke-width="0.9"/>
<line x1="755.0" y1="894.7" x2="755.0" y2="918.0" stroke-width="1"/>
<line x1="771.5" y1="894.7" x2="771.5" y2="918.0" stroke-width="1"/>
<path d="M749.3 917.5 Q752.1 920.5 755.0 917.5 Q763.2 920.5 771.5 917.5 Q776.0 920.5 780.5 917.5" stroke-width="1"/>
<path d="M751.3 920.2 H779.0 V925.3 Q779.0 930.3 774.0 930.3 H756.3 Q751.3 930.3 751.3 925.3 Z" stroke-width="1.1"/>
<path d="M782.7 894.7 V917.5 M810.2 894.7 V917.5" stroke-width="1.6"/>
<line x1="782.7" y1="904" x2="810.2" y2="904" stroke-width="0.9"/>
<line x1="782.7" y1="904.9" x2="810.2" y2="904.9" stroke-width="0.9"/>
<line x1="796.3" y1="894.7" x2="796.3" y2="918.0" stroke-width="1"/>
<line x1="808.6" y1="894.7" x2="808.6" y2="918.0" stroke-width="1"/>
<path d="M782.7 917.5 Q789.5 920.5 796.3 917.5 Q802.5 920.5 808.6 917.5 Q809.4 920.5 810.2 917.5" stroke-width="1"/>
<path d="M784.7 920.2 H808.7 V925.3 Q808.7 930.3 803.7 930.3 H789.7 Q784.7 930.3 784.7 925.3 Z" stroke-width="1.1"/>
</g>
</svg>
</body></html>
